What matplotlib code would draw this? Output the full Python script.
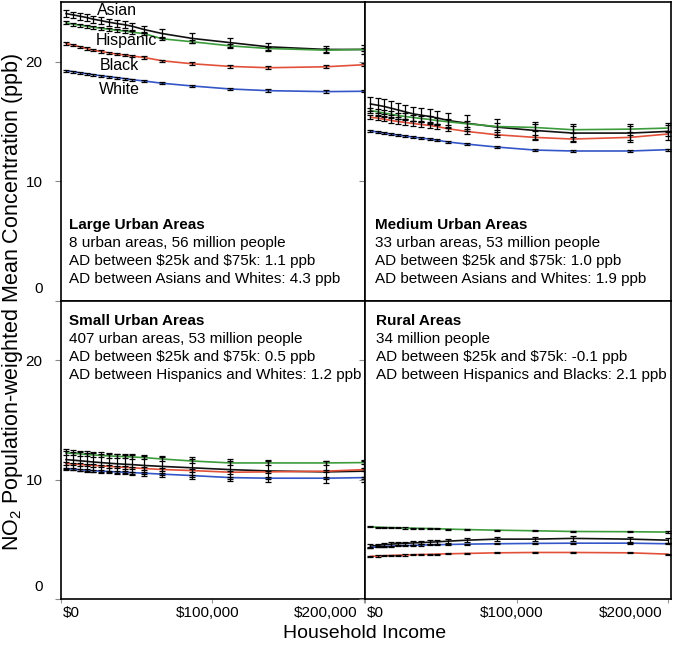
import numpy as np
import matplotlib
matplotlib.use('Agg')
import matplotlib.pyplot as plt
from matplotlib.transforms import ScaledTranslation

plt.rcParams['font.family'] = ['Liberation Sans', 'DejaVu Sans']
plt.rcParams['mathtext.default'] = 'regular'

# household income of each point (dollars)
income = [3500, 8300, 12700, 17200, 21500, 26400, 31700, 36900, 42600, 47200,
          55000, 67000, 87000, 112000, 137000, 175000, 200000]

groups = ['Asian', 'Hispanic', 'Black', 'White']
colors = ['#111111', '#3c9c3c', '#e2503a', '#3456c8']

# Large urban areas
large_asian = [24.03, 23.92, 23.81, 23.70, 23.56, 23.45, 23.31, 23.20, 23.09, 22.97, 22.70, 22.36, 21.95, 21.60, 21.25, 21.03, 21.03]
large_hisp = [23.25, 23.14, 23.06, 22.97, 22.89, 22.81, 22.72, 22.64, 22.56, 22.47, 22.36, 21.92, 21.67, 21.33, 21.11, 20.97, 21.03]
large_black = [21.53, 21.39, 21.25, 21.11, 20.97, 20.86, 20.75, 20.64, 20.56, 20.47, 20.36, 20.08, 19.83, 19.61, 19.50, 19.58, 19.75]
large_white = [19.25, 19.17, 19.08, 19.00, 18.92, 18.83, 18.75, 18.67, 18.58, 18.50, 18.39, 18.20, 17.97, 17.72, 17.58, 17.50, 17.53]

# Medium urban areas
med_asian = [16.47, 16.36, 16.25, 16.11, 15.97, 15.81, 15.64, 15.53, 15.42, 15.31, 15.08, 14.86, 14.53, 14.25, 14.03, 14.03, 14.17]
med_hisp = [15.92, 15.81, 15.70, 15.61, 15.50, 15.42, 15.33, 15.25, 15.17, 15.08, 14.97, 14.81, 14.58, 14.50, 14.31, 14.36, 14.45]
med_black = [15.36, 15.28, 15.19, 15.08, 15.00, 14.92, 14.83, 14.75, 14.67, 14.58, 14.39, 14.17, 13.89, 13.67, 13.53, 13.67, 13.95]
med_white = [14.22, 14.11, 14.03, 13.94, 13.86, 13.78, 13.69, 13.61, 13.53, 13.44, 13.28, 13.11, 12.86, 12.61, 12.53, 12.53, 12.64]

# Small urban areas
small_asian = [11.67, 11.62, 11.57, 11.52, 11.47, 11.42, 11.37, 11.32, 11.28, 11.25, 11.18, 11.10, 10.98, 10.83, 10.72, 10.64, 10.70]
small_hisp = [12.23, 12.19, 12.15, 12.10, 12.06, 12.02, 11.98, 11.95, 11.92, 11.89, 11.84, 11.72, 11.55, 11.39, 11.39, 11.39, 11.42]
small_black = [11.34, 11.30, 11.26, 11.22, 11.18, 11.14, 11.10, 11.06, 11.02, 10.99, 10.92, 10.84, 10.75, 10.61, 10.64, 10.70, 10.83]
small_white = [10.92, 10.87, 10.82, 10.78, 10.74, 10.70, 10.67, 10.64, 10.61, 10.58, 10.53, 10.45, 10.33, 10.16, 10.11, 10.11, 10.16]

# Rural areas
rural_asian = [4.41, 4.48, 4.53, 4.58, 4.62, 4.65, 4.68, 4.71, 4.74, 4.77, 4.83, 4.91, 5.00, 5.00, 5.06, 5.00, 4.91]
rural_hisp = [6.03, 6.00, 5.98, 5.96, 5.95, 5.93, 5.92, 5.90, 5.89, 5.87, 5.84, 5.80, 5.75, 5.70, 5.64, 5.62, 5.59]
rural_black = [3.55, 3.58, 3.61, 3.63, 3.65, 3.67, 3.69, 3.71, 3.72, 3.74, 3.77, 3.80, 3.85, 3.88, 3.88, 3.85, 3.74]
rural_white = [4.30, 4.35, 4.38, 4.41, 4.44, 4.46, 4.48, 4.50, 4.52, 4.53, 4.55, 4.58, 4.61, 4.64, 4.66, 4.66, 4.61]

# error bar half-widths (ppb)
large_err = [
    [0.28, 0.28, 0.28, 0.28, 0.28, 0.30, 0.30, 0.30, 0.30, 0.30, 0.32, 0.35, 0.42, 0.42, 0.35, 0.30, 0.35],
    [0.12, 0.12, 0.12, 0.12, 0.12, 0.12, 0.12, 0.12, 0.12, 0.12, 0.12, 0.12, 0.13, 0.13, 0.13, 0.14, 0.14],
    [0.10, 0.10, 0.10, 0.10, 0.10, 0.10, 0.10, 0.10, 0.10, 0.10, 0.10, 0.10, 0.11, 0.11, 0.12, 0.12, 0.12],
    [0.08, 0.08, 0.08, 0.08, 0.08, 0.08, 0.08, 0.08, 0.08, 0.08, 0.08, 0.08, 0.09, 0.09, 0.10, 0.10, 0.10],
]
med_err = [
    [0.62, 0.62, 0.60, 0.60, 0.60, 0.60, 0.60, 0.60, 0.60, 0.60, 0.62, 0.65, 0.70, 0.70, 0.72, 0.72, 0.72],
    [0.25, 0.25, 0.25, 0.25, 0.25, 0.25, 0.25, 0.25, 0.25, 0.25, 0.26, 0.27, 0.28, 0.28, 0.28, 0.28, 0.28],
    [0.18, 0.18, 0.18, 0.18, 0.18, 0.18, 0.18, 0.18, 0.18, 0.18, 0.19, 0.20, 0.20, 0.20, 0.20, 0.20, 0.20],
    [0.07, 0.07, 0.07, 0.07, 0.07, 0.07, 0.07, 0.07, 0.07, 0.07, 0.07, 0.07, 0.08, 0.08, 0.08, 0.08, 0.08],
]
small_err = [
    [0.85, 0.85, 0.85, 0.85, 0.85, 0.85, 0.85, 0.85, 0.85, 0.85, 0.86, 0.88, 0.90, 0.92, 0.92, 0.95, 0.95],
    [0.15, 0.15, 0.15, 0.15, 0.15, 0.15, 0.15, 0.15, 0.15, 0.15, 0.15, 0.15, 0.16, 0.16, 0.16, 0.16, 0.16],
    [0.10, 0.10, 0.10, 0.10, 0.10, 0.10, 0.10, 0.10, 0.10, 0.10, 0.10, 0.10, 0.11, 0.11, 0.11, 0.11, 0.11],
    [0.08, 0.08, 0.08, 0.08, 0.08, 0.08, 0.08, 0.08, 0.08, 0.08, 0.08, 0.08, 0.08, 0.08, 0.08, 0.08, 0.08],
]
rural_err = [
    [0.15, 0.15, 0.15, 0.15, 0.15, 0.15, 0.15, 0.15, 0.15, 0.15, 0.15, 0.16, 0.18, 0.18, 0.18, 0.20, 0.20],
    [0.05, 0.05, 0.05, 0.05, 0.05, 0.05, 0.05, 0.05, 0.05, 0.05, 0.05, 0.05, 0.05, 0.05, 0.05, 0.05, 0.05],
    [0.05, 0.05, 0.05, 0.05, 0.05, 0.05, 0.05, 0.05, 0.05, 0.05, 0.05, 0.05, 0.05, 0.05, 0.05, 0.05, 0.05],
    [0.05, 0.05, 0.05, 0.05, 0.05, 0.05, 0.05, 0.05, 0.05, 0.05, 0.05, 0.05, 0.05, 0.05, 0.05, 0.05, 0.05],
]

panel_titles = ['Large Urban Areas', 'Medium Urban Areas', 'Small Urban Areas', 'Rural Areas']
panel_notes = [
    ['8 urban areas, 56 million people', 'AD between $25k and $75k: 1.1 ppb', 'AD between Asians and Whites: 4.3 ppb'],
    ['33 urban areas, 53 million people', 'AD between $25k and $75k: 1.0 ppb', 'AD between Asians and Whites: 1.9 ppb'],
    ['407 urban areas, 53 million people', 'AD between $25k and $75k: 0.5 ppb', 'AD between Hispanics and Whites: 1.2 ppb'],
    ['34 million people', 'AD between $25k and $75k: -0.1 ppb', 'AD between Hispanics and Blacks: 2.1 ppb'],
]

panel_data = [
    [large_asian, large_hisp, large_black, large_white],
    [med_asian, med_hisp, med_black, med_white],
    [small_asian, small_hisp, small_black, small_white],
    [rural_asian, rural_hisp, rural_black, rural_white],
]
panel_err = [large_err, med_err, small_err, rural_err]

# group labels in the first panel (income, ppb)
label_x = [36900, 43700, 38500, 38500]
label_y = [24.25, 21.75, 19.67, 17.64]

fig = plt.figure(figsize=(6.76, 6.51), dpi=100)
rects = [
    [0.0898, 0.5381, 0.4504, 0.4588],
    [0.5402, 0.5381, 0.4524, 0.4588],
    [0.0898, 0.0803, 0.4504, 0.4578],
    [0.5402, 0.0803, 0.4524, 0.4578],
]
xmax = [201000, 202000, 201000, 202000]
text_top = [0.2534, 0.2534, 0.933, 0.933]
text_left = [0.028, 0.032, 0.028, 0.035]
line_step = 0.0605

for i in range(4):
    ax = fig.add_axes(rects[i])
    for j in range(4):
        ax.plot(income, panel_data[i][j], color=colors[j], lw=1.2, zorder=2)
        ax.errorbar(income, panel_data[i][j], yerr=panel_err[i][j], fmt='none',
                    ecolor='black', elinewidth=0.9, capsize=2.2, capthick=0.9, zorder=3)
    ax.set_xlim(0, xmax[i])
    ax.set_ylim(0, 25)
    for s in ax.spines.values():
        s.set_linewidth(1.2)
        s.set_color('black')

    ax.set_xticks([0, 100000, 200000])
    ax.set_yticks([0, 10, 20])
    ax.tick_params(axis='x', direction='out', length=3, color='#999999', labelsize=11, pad=2)
    ax.tick_params(axis='y', direction='out', length=4, color='#888888', labelsize=11, pad=9)

    if i >= 2:
        ax.set_xticklabels(['$0', '$100,000', '$200,000'])
        xl = ax.get_xticklabels()
        xl[0].set_ha('left')
        xl[-1].set_ha('right')
        shifts = [2, -5, -6]
        for lab, dx in zip(xl, shifts):
            lab.set_transform(lab.get_transform() + ScaledTranslation(dx / 100, 0, fig.dpi_scale_trans))
    else:
        ax.set_xticklabels([])

    if i % 2 == 0:
        ax.set_yticklabels(['0', '10', '20'])
        zero = ax.get_yticklabels()[0]
        zero.set_transform(zero.get_transform() + ScaledTranslation(0, 13 / 100, fig.dpi_scale_trans))
    else:
        ax.set_yticklabels([])

    ax.text(text_left[i], text_top[i], panel_titles[i], transform=ax.transAxes,
            fontsize=11, fontweight='bold', va='center', ha='left')
    for k, note in enumerate(panel_notes[i]):
        ax.text(text_left[i], text_top[i] - (k + 1) * line_step, note.replace('$', r'\$'),
                transform=ax.transAxes, fontsize=11, va='center', ha='left')

    if i == 0:
        for j in range(4):
            ax.text(label_x[j], label_y[j], groups[j], fontsize=11.5, ha='center', va='center', zorder=4)

fig.text(12.5 / 676, 1 - 302 / 651, 'NO$_2$ Population-weighted Mean Concentration (ppb)',
         rotation=90, ha='center', va='center', fontsize=15.5)
fig.text(365 / 676, 1 - 633 / 651, 'Household Income', ha='center', va='center', fontsize=14)

fig.savefig('out.png', dpi=100)
